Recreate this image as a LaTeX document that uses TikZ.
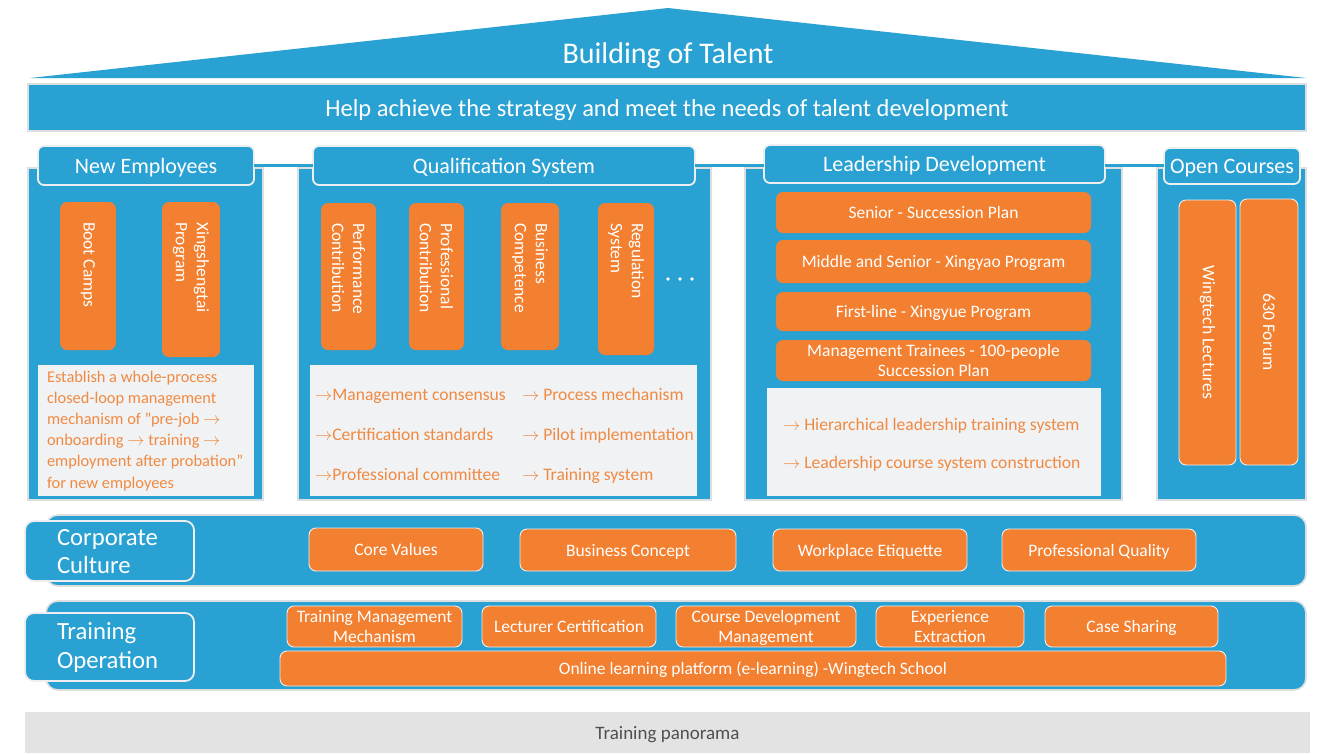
\documentclass[tikz,border=0pt]{standalone}
\usepackage{fontspec}
\setmainfont{Carlito}
\usetikzlibrary{fit}

\definecolor{bblue}{RGB}{42,161,211}
\definecolor{borange}{RGB}{242,128,48}
\definecolor{ptorange}{RGB}{240,138,66}
\definecolor{paneg}{RGB}{241,242,244}
\definecolor{edgeg}{RGB}{220,222,224}
\definecolor{lightedge}{RGB}{236,238,240}
\definecolor{footg}{RGB}{227,227,227}
\definecolor{foottext}{RGB}{80,80,80}

\newcommand\rarr{$\rightarrow$}

\begin{document}
\begin{tikzpicture}[x=1pt,y=-1pt,
  every node/.style={inner sep=0pt,outer sep=0pt},
  sz/.style={font=\fontsize{#1}{\fpeval{#1*1.2}}\selectfont},
  body/.style={draw=edgeg,line width=1.6pt,fill=bblue},
  tab/.style={draw=lightedge,line width=1.8pt,fill=bblue,rounded corners=6pt},
  band/.style={draw=edgeg,line width=1.6pt,fill=bblue,rounded corners=12pt},
  obox/.style={fill=borange,rounded corners=7pt},
  oboxe/.style={obox,draw=lightedge,line width=0.9pt},
  wtext/.style={text=white,align=center,text depth=0pt,sz=17.5},
  tabtext/.style={text=white,text depth=0pt,sz=22},
  vtext/.style={rotate=-90,anchor=west,align=left,text=white,sz=17.5},
  pane/.style={fill=paneg},
  ptext/.style={anchor=base west,text=ptorange,sz=17.6},
  link/.style={draw=bblue,line width=3pt}
]
\useasboundingbox (0,0) rectangle (1319,753);

% roof and banner
\fill[bblue] (30,78) -- (668,8) -- (1306,78) -- cycle;
\node[text=white,text depth=0pt,sz=30] (title) at (668,53) {Building of Talent};
\node[body,fit={(28,84) (1306,131)}] (banner) {};
\node[text=white,text depth=0pt,sz=24.5] (bannert) at (banner.center) {Help achieve the strategy and meet the needs of talent development};

% column bodies
\node[body,fit={(28,168) (263,500)}] (neb) {};
\node[body,fit={(298,168) (711,500)}] (qsb) {};
\node[body,fit={(745,168) (1122,500)}] (ldb) {};
\node[body,fit={(1157,168) (1306,500)}] (ocb) {};

% column headers and the links between them
\node[tab,fit={(38,146) (254,185)}] (net) {};
\node[tabtext] at (net.center) {New Employees};
\node[tab,fit={(313,146) (695,185)}] (qst) {};
\node[tabtext] at (qst.center) {Qualification System};
\node[tab,fit={(764,145) (1105,183)}] (ldt) {};
\node[tabtext] at (ldt.center) {Leadership Development};
\node[tab,fit={(1164,148) (1300,184)}] (oct) {};
\node[tabtext] at (oct.center) {Open Courses};
\coordinate (lky) at (0,165);
\draw[link] (net.east |- lky) -- (qst.west |- lky);
\draw[link] (qst.east |- lky) -- (ldt.west |- lky);
\draw[link] (ldt.east |- lky) -- (oct.west |- lky);

% New Employees
\node[obox,fit={(60,202) (116,350)}] (boot) {};
\node[vtext] (boott) at ([yshift=-20]boot.north) {Boot Camps};
\node[obox,fit={(162,202) (220,357)}] (xst) {};
\node[vtext] (xstt) at ([yshift=-20]xst.north) {Xingshengtai\\Program};
\node[pane,fit={(38,365) (254,496)}] (nep) {};
\node[ptext,sz=16.4] (ne1) at (47,382) {Establish a whole-process};
\node[ptext,sz=16.4] (ne2) at (47,403.5) {closed-loop management};
\node[ptext,sz=16.4] (ne3) at (47,424.5) {mechanism of "pre-job \rarr};
\node[ptext,sz=16.4] (ne4) at (47,445.5) {onboarding \rarr\ training \rarr};
\node[ptext,sz=16.4] (ne5) at (47,466.5) {employment after probation"};
\node[ptext,sz=16.4] (ne6) at (47,488) {for new employees};

% Qualification System
\node[obox,fit={(321,203) (376,350)}] (perf) {};
\node[vtext] (perft) at ([yshift=-20]perf.north) {Performance\\Contribution};
\node[obox,fit={(409,203) (464,350)}] (prof) {};
\node[vtext] (proft) at ([yshift=-20]prof.north) {Professional\\Contribution};
\node[obox,fit={(501,203) (559,350)}] (busc) {};
\node[vtext] (busct) at ([yshift=-20]busc.north) {Business\\Competence};
\node[obox,fit={(598,203) (654,355)}] (regs) {};
\node[vtext] (regst) at ([yshift=-20]regs.north) {Regulation\\System};
\foreach \x in {668,680,692} \fill[white] (\x,279) circle (1.8);
\node[pane,fit={(310,365) (697,496)}] (qsp) {};
\node[ptext] (q1) at (315,400) {\rarr Management consensus};
\node[ptext] (q2) at (315,440) {\rarr Certification standards};
\node[ptext] (q3) at (315,480) {\rarr Professional committee};
\node[ptext] (q4) at (522,400) {\rarr\ Process mechanism};
\node[ptext] (q5) at (522,440) {\rarr\ Pilot implementation};
\node[ptext] (q6) at (522,480) {\rarr\ Training system};

% Leadership Development
\node[obox,fit={(776,192) (1091,233)}] (ld1) {};
\node[wtext] at (ld1.center) {Senior - Succession Plan};
\node[obox,fit={(776,240) (1091,283)}] (ld2) {};
\node[wtext] at (ld2.center) {Middle and Senior - Xingyao Program};
\node[obox,fit={(776,292) (1091,331)}] (ld3) {};
\node[wtext] at (ld3.center) {First-line - Xingyue Program};
\node[obox,fit={(776,340) (1091,381)}] (ld4) {};
\node[wtext,font=\fontsize{17.5}{20}\selectfont] at (ld4.center) {Management Trainees - 100-people\\Succession Plan};
\node[pane,fit={(767,388) (1101,496)}] (ldp) {};
\node[ptext] (l1) at (783,430) {\rarr\ Hierarchical leadership training system};
\node[ptext] (l2) at (783,468) {\rarr\ Leadership course system construction};

% Open Courses
\node[oboxe,fit={(1179,200) (1236,465)}] (wing) {};
\node[rotate=-90,text=white,sz=17.7] (wingt) at (wing.center) {Wingtech Lectures};
\node[oboxe,fit={(1240,199) (1298,465)}] (forum) {};
\node[rotate=-90,text=white,sz=17.7] (forumt) at (forum.center) {630 Forum};

% Corporate Culture
\node[band,fit={(46,515) (1306,586)}] (ccb) {};
\node[tab,rounded corners=9pt,fit={(25,521) (194,581)}] (cct) {};
\node[anchor=west,align=left,text=white,font=\fontsize{24.7}{28}\selectfont] (cctt) at (57,552) {Corporate\\Culture};
\node[oboxe,fit={(309,528) (483,571)}] (cv) {};
\node[wtext] at (cv.center) {Core Values};
\node[oboxe,fit={(520,529) (736,571)}] (bcn) {};
\node[wtext] at (bcn.center) {Business Concept};
\node[oboxe,fit={(773,529) (967,571)}] (we) {};
\node[wtext] at (we.center) {Workplace Etiquette};
\node[oboxe,fit={(1002,529) (1196,571)}] (pq) {};
\node[wtext] at (pq.center) {Professional Quality};

% Training Operation
\node[band,fit={(46,601) (1306,690)}] (tob) {};
\node[tab,rounded corners=9pt,fit={(25,613) (194,681)}] (tot) {};
\node[anchor=west,align=left,text=white,font=\fontsize{24.7}{29}\selectfont] (tott) at (57,647) {Training\\Operation};
\node[oboxe,fit={(287,606) (462,647)}] (tmm) {};
\node[wtext,font=\fontsize{17.5}{20}\selectfont] at (tmm.center) {Training Management\\Mechanism};
\node[oboxe,fit={(482,606) (656,647)}] (lc) {};
\node[wtext] at (lc.center) {Lecturer Certification};
\node[oboxe,fit={(676,606) (856,647)}] (cdm) {};
\node[wtext,font=\fontsize{17.5}{20}\selectfont] at (cdm.center) {Course Development\\Management};
\node[oboxe,fit={(876,606) (1024,647)}] (ee) {};
\node[wtext,font=\fontsize{17.5}{20}\selectfont] at (ee.center) {Experience\\Extraction};
\node[oboxe,fit={(1045,606) (1218,647)}] (cs) {};
\node[wtext] at (cs.center) {Case Sharing};
\node[oboxe,fit={(280,651) (1226,686)}] (ol) {};
\node[wtext] at (ol.center) {Online learning platform (e-learning) -Wingtech School};

% footer
\node[fill=footg,fit={(25,712) (1310,753)}] (foot) {};
\node[text=foottext,text depth=0pt,sz=19] at (foot.center) {Training panorama};
\end{tikzpicture}
\end{document}
